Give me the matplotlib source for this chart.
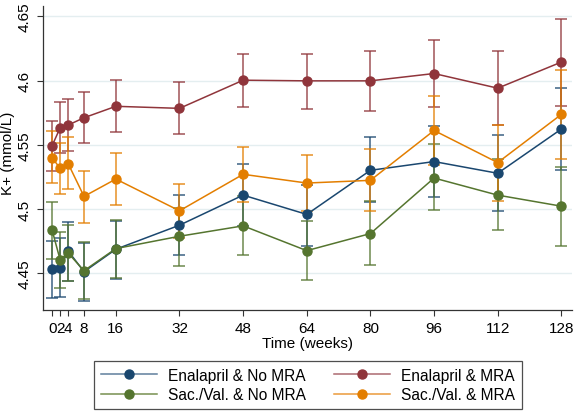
import matplotlib
matplotlib.use("Agg")
import matplotlib.pyplot as plt
from matplotlib.lines import Line2D

plt.rcParams['font.family'] = ['Liberation Sans', 'DejaVu Sans']

weeks = [0, 2, 4, 8, 16, 32, 48, 64, 80, 96, 112, 128]
xtick_labels = ["0", "2", "4", "8", "16", "32", "48", "64", "80", "96", "112", "128"]
yticks = [4.45, 4.5, 4.55, 4.6, 4.65]
ytick_labels = ["4.45", "4.5", "4.55", "4.6", "4.65"]

series_names = ["Enalapril & No MRA", "Enalapril & MRA", "Sac./Val. & No MRA", "Sac./Val. & MRA"]

enal_nomra_mean = [4.4531, 4.4545, 4.4675, 4.4513, 4.4688, 4.4875, 4.5109, 4.4959, 4.5302, 4.5370, 4.5279, 4.5623]
enal_nomra_lo   = [4.4310, 4.4320, 4.4440, 4.4289, 4.4459, 4.4641, 4.4870, 4.4714, 4.5058, 4.5097, 4.4984, 4.5305]
enal_nomra_hi   = [4.4755, 4.4777, 4.4902, 4.4740, 4.4910, 4.5110, 4.5349, 4.5190, 4.5563, 4.5644, 4.5573, 4.5943]

enal_mra_mean = [4.5495, 4.5633, 4.5654, 4.5711, 4.5800, 4.5784, 4.6003, 4.5998, 4.5998, 4.6055, 4.5941, 4.6144]
enal_mra_lo   = [4.5297, 4.5438, 4.5456, 4.5516, 4.5602, 4.5581, 4.5797, 4.5779, 4.5766, 4.5794, 4.5654, 4.5800]
enal_mra_hi   = [4.5688, 4.5831, 4.5855, 4.5909, 4.6003, 4.5990, 4.6209, 4.6210, 4.6234, 4.6313, 4.6230, 4.6480]

sac_nomra_mean = [4.4834, 4.4605, 4.4659, 4.4521, 4.4693, 4.4789, 4.4870, 4.4677, 4.4810, 4.5242, 4.5109, 4.5023]
sac_nomra_lo   = [4.4612, 4.4386, 4.4440, 4.4300, 4.4466, 4.4560, 4.4641, 4.4445, 4.4568, 4.4990, 4.4834, 4.4716]
sac_nomra_hi   = [4.5052, 4.4826, 4.4880, 4.4748, 4.4914, 4.5010, 4.5100, 4.4905, 4.5063, 4.5505, 4.5390, 4.5331]

sac_mra_mean = [4.5398, 4.5318, 4.5355, 4.5099, 4.5234, 4.4987, 4.5271, 4.5203, 4.5224, 4.5612, 4.5362, 4.5737]
sac_mra_lo   = [4.5206, 4.5115, 4.5154, 4.4894, 4.5029, 4.4776, 4.5058, 4.4984, 4.4987, 4.5346, 4.5063, 4.5388]
sac_mra_hi   = [4.5605, 4.5516, 4.5563, 4.5300, 4.5438, 4.5198, 4.5482, 4.5422, 4.5464, 4.5878, 4.5654, 4.6086]

colors = ["#1a476f", "#90353b", "#55752f", "#e37e00"]
line_colors = ["#5f7f9c", "#ac6a70", "#77904f", "#eb9a3a"]

data = [
    (enal_nomra_mean, enal_nomra_lo, enal_nomra_hi),
    (enal_mra_mean, enal_mra_lo, enal_mra_hi),
    (sac_nomra_mean, sac_nomra_lo, sac_nomra_hi),
    (sac_mra_mean, sac_mra_lo, sac_mra_hi),
]

fig = plt.figure(figsize=(5.74, 4.14), dpi=100)
ax = fig.add_axes([0.075, 0.249, 0.921, 0.734])

for (m, lo, hi), c, lc in zip(data, colors, line_colors):
    yerr = [[mi - l for mi, l in zip(m, lo)], [h - mi for mi, h in zip(m, hi)]]
    ax.errorbar(weeks, m, yerr=yerr, fmt='none', ecolor=c, elinewidth=1.1,
                capsize=4, capthick=1.1, alpha=0.85, zorder=2)
    ax.plot(weeks, m, color=c, linewidth=1.1, zorder=3)
    ax.plot(weeks, m, linestyle='none', marker='o', markersize=6.5,
            color=c, zorder=4)

ax.set_xlim(-2.3, 130.6)
ax.set_ylim(4.4216, 4.658)
ax.set_xticks(weeks)
ax.set_xticklabels(xtick_labels, fontsize=11)
ax.set_yticks(yticks)
ax.set_yticklabels(ytick_labels, fontsize=11)
for lab in ax.get_yticklabels():
    lab.set_rotation(90)
    lab.set_rotation_mode('anchor')
    lab.set_ha('center')
    lab.set_va('bottom')
ax.tick_params(axis='both', direction='out', length=4, width=0.8, color='#333333')
ax.tick_params(axis='x', pad=4)
ax.tick_params(axis='y', pad=4)
ax.grid(axis='y', color='#e4eef0', linewidth=1)
ax.set_axisbelow(True)
for s in ['top', 'right']:
    ax.spines[s].set_visible(False)
for s in ['left', 'bottom']:
    ax.spines[s].set_color('#333333')
    ax.spines[s].set_linewidth(0.9)

ax.set_xlabel("Time (weeks)", fontsize=11, labelpad=1)
ax.set_ylabel("K+ (mmol/L)", fontsize=11)
ax.yaxis.set_label_coords(-0.053, 0.52)

handles = [Line2D([0], [0], color=lc, lw=1.1, marker='o', markersize=6.5,
                  markerfacecolor=c, markeredgecolor=c)
           for c, lc in zip(colors, line_colors)]
order = [0, 2, 1, 3]
leg = fig.legend([handles[i] for i in order], [series_names[i] for i in order],
                 loc='center', ncol=2,
                 bbox_to_anchor=(0.536, 0.068), fontsize=11.2, frameon=True,
                 fancybox=False, edgecolor='#222222', handlelength=3.6,
                 numpoints=1, columnspacing=1.8, handletextpad=0.7,
                 borderpad=0.45, labelspacing=0.3)
leg.get_frame().set_linewidth(0.9)

fig.savefig("out.png", dpi=100)
